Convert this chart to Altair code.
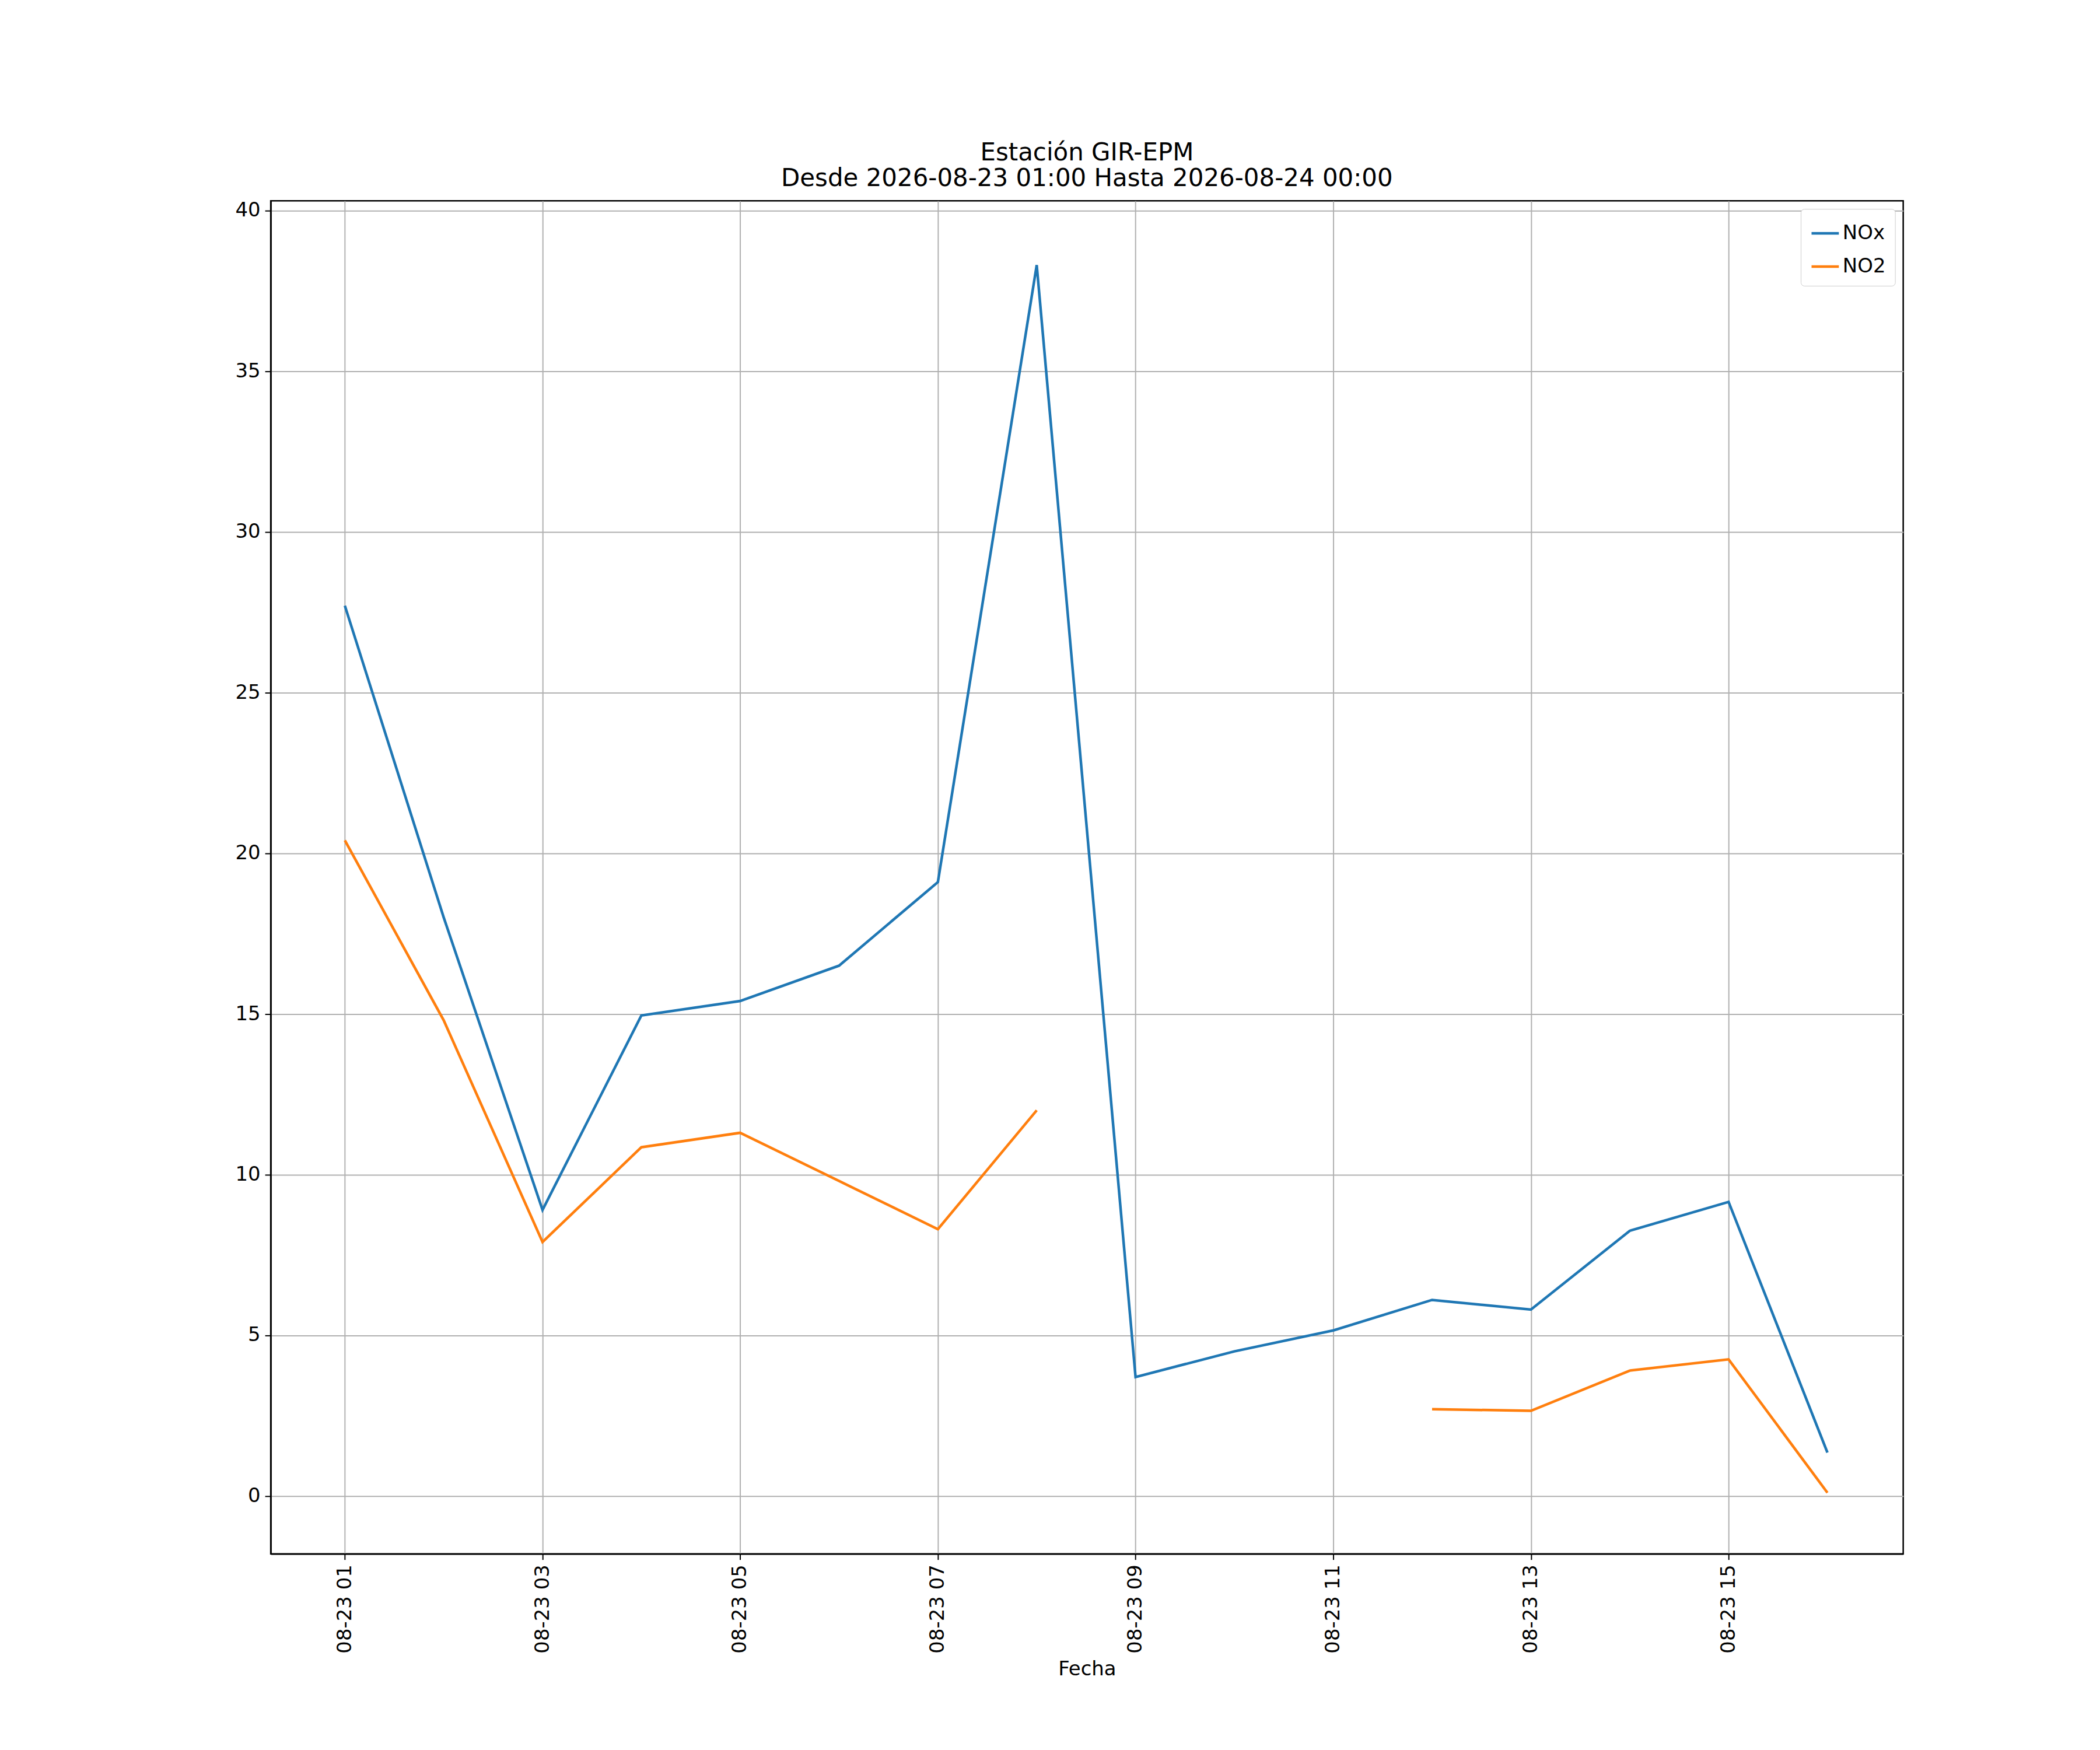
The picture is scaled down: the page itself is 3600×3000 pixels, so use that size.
import altair as alt
import pandas as pd

HOURS = list(range(1, 17))
NOX = [27.7, 18.0, 8.9, 14.95, 15.4, 16.5, 19.1, 38.3, 3.7, 4.5, 5.15, 6.1, 5.8, 8.25, 9.15, 1.35]
NO2 = [20.4, 14.8, 7.9, 10.85, 11.3, 9.8, 8.3, 12.0, None, None, None, 2.7, 2.65, 3.9, 4.25, 0.1]

rows = []
for name, vals in [("NOx", NOX), ("NO2", NO2)]:
    seg = 0
    for h, v in zip(HOURS, vals):
        if v is None:
            seg += 1
            continue
        rows.append({"fecha": f"2026-08-23T{h:02d}:00:00", "valor": v,
                     "serie": name, "seg": f"{name}-{seg}"})
df = pd.DataFrame(rows)

tick_vals = [f"2026-08-23T{h:02d}:00:00" for h in range(1, 17, 2)]

chart = alt.Chart(df).mark_line(strokeWidth=4.5, clip=True).encode(
    x=alt.X("fecha:T", title="Fecha",
            scale=alt.Scale(domain=["2026-08-23T00:15:00", "2026-08-23T16:46:00"]),
            axis=alt.Axis(values=tick_vals, format="%m-%d %H", labelAngle=-90,
                          labelFontSize=34, titleFontSize=34, tickSize=10,
                          titlePadding=10, labelPadding=8)),
    y=alt.Y("valor:Q", title=None,
            scale=alt.Scale(domain=[-1.8, 40.3], nice=False, zero=False),
            axis=alt.Axis(values=[0, 5, 10, 15, 20, 25, 30, 35, 40],
                          labelFontSize=34, tickSize=10, labelPadding=8)),
    color=alt.Color("serie:N", sort=["NOx", "NO2"],
                    scale=alt.Scale(domain=["NOx", "NO2"], range=["#1f77b4", "#ff7f0e"]),
                    legend=alt.Legend(title=None, orient="top-right", labelFontSize=34,
                                      symbolType="stroke", symbolSize=2200,
                                      symbolStrokeWidth=4.5, strokeColor="#cccccc",
                                      fillColor="white", padding=16, cornerRadius=6,
                                      rowPadding=14, offset=14)),
    detail="seg:N",
).properties(
    width=2804, height=2324,
    padding={"left": 395, "top": 230, "right": 330, "bottom": 40},
    title=alt.Title(["Estación GIR-EPM", "Desde 2026-08-23 01:00 Hasta 2026-08-24 00:00"],
                    fontSize=42, fontWeight="normal", anchor="middle", offset=16,
                    font="DejaVu Sans", color="black"),
).configure_axis(
    grid=True, gridColor="#b0b0b0", gridWidth=2, domainColor="black", domainWidth=2.5,
    tickColor="black", tickWidth=2, labelColor="black", titleColor="black",
    titleFontWeight="normal", labelFont="DejaVu Sans", titleFont="DejaVu Sans",
).configure_view(
    stroke="black", strokeWidth=2.5,
).configure_legend(
    labelFont="DejaVu Sans",
)

chart.save("out.html", embed_options={"renderer": "svg", "actions": False})
